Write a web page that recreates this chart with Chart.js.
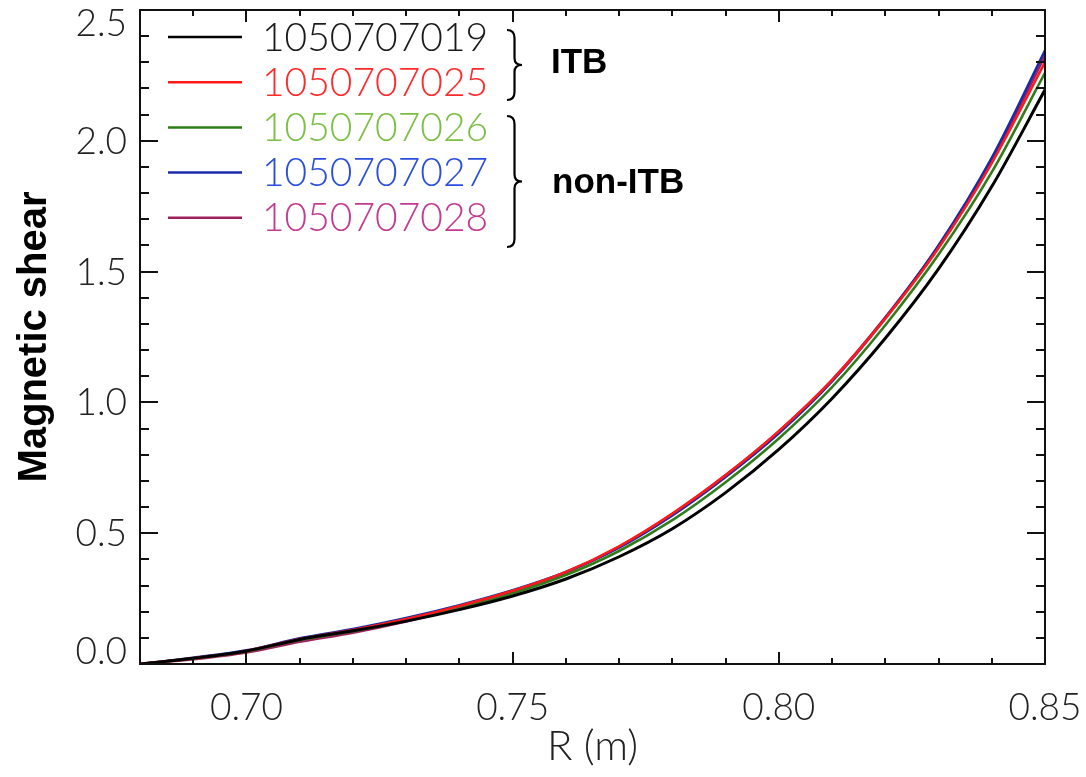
<!DOCTYPE html>
<html>
<head>
<meta charset="utf-8">
<script src="https://cdn.jsdelivr.net/npm/chart.js@4/dist/chart.umd.min.js"></script>
<style>
  html, body { margin: 0; padding: 0; background: #fff; }
  #wrap { width: 1086px; height: 777px; }
</style>
</head>
<body>
<div id="wrap"><canvas id="shearChart" width="1086" height="777"></canvas></div>
<script>
// R (m) sample positions
const radius = [0.68, 0.69, 0.70, 0.71, 0.72, 0.73, 0.74, 0.75, 0.76, 0.77, 0.78, 0.79, 0.80, 0.81, 0.82, 0.83, 0.84, 0.85];

// magnetic shear
const shot019 = [0, 0.022, 0.050, 0.094, 0.127, 0.164, 0.208, 0.260, 0.325, 0.410, 0.517, 0.655, 0.820, 1.015, 1.245, 1.510, 1.825, 2.195];
const shot025 = [0, 0.022, 0.050, 0.095, 0.130, 0.172, 0.222, 0.280, 0.352, 0.450, 0.575, 0.722, 0.890, 1.085, 1.320, 1.590, 1.915, 2.300];
const shot026 = [0, 0.021, 0.048, 0.092, 0.125, 0.166, 0.214, 0.270, 0.340, 0.432, 0.550, 0.695, 0.862, 1.058, 1.295, 1.565, 1.880, 2.260];
const shot027 = [0, 0.024, 0.052, 0.098, 0.134, 0.176, 0.225, 0.282, 0.352, 0.445, 0.568, 0.715, 0.882, 1.080, 1.322, 1.600, 1.935, 2.345];
const shot028 = [0, 0.018, 0.044, 0.085, 0.120, 0.163, 0.214, 0.274, 0.349, 0.448, 0.573, 0.721, 0.889, 1.086, 1.325, 1.598, 1.925, 2.325];

const shotLabels = ['1050707019', '1050707025', '1050707026', '1050707027', '1050707028'];
const lineColors = ['#000000', '#ff1a1a', '#2f7d18', '#1a2aa8', '#a0205e'];
const textColors = ['#1a1a1a', '#ff2a2a', '#7cbf45', '#2a4fe0', '#c23a92'];

const xTickValues = [0.70, 0.75, 0.80, 0.85];
const yTickValues = [0.0, 0.5, 1.0, 1.5, 2.0, 2.5];

const thinFont = '"Lato", "Open Sans", sans-serif';
const boldFont = '"Liberation Sans", Arial, sans-serif';

const allShots = [shot019, shot025, shot026, shot027, shot028];

const datasets = allShots.map((vals, i) => ({
    label: shotLabels[i],
    data: radius.map((r, j) => ({ x: r, y: vals[j] })),
    borderColor: lineColors[i],
    borderWidth: i === 0 ? 3 : 2.6,
    pointRadius: 0,
    fill: false,
    cubicInterpolationMode: 'monotone'
}));

function drawBrace(ctx, x, y1, y2, w) {
    const ym = (y1 + y2) / 2;
    const h = w / 2;
    ctx.beginPath();
    ctx.moveTo(x, y1);
    ctx.quadraticCurveTo(x + h, y1, x + h, y1 + 8);
    ctx.lineTo(x + h, ym - 7);
    ctx.quadraticCurveTo(x + h, ym, x + w, ym);
    ctx.quadraticCurveTo(x + h, ym, x + h, ym + 7);
    ctx.lineTo(x + h, y2 - 8);
    ctx.quadraticCurveTo(x + h, y2, x, y2);
    ctx.stroke();
}

const framePlugin = {
    id: 'frame',
    afterDraw(chart) {
        const ctx = chart.ctx;
        const { left, right, top, bottom } = chart.chartArea;
        const xs = chart.scales.x;
        const ys = chart.scales.y;
        ctx.save();
        ctx.strokeStyle = '#111';
        ctx.lineWidth = 2;
        ctx.strokeRect(left, top, right - left, bottom - top);

        // inward ticks, all four sides
        ctx.beginPath();
        for (let k = 68; k <= 85; k++) {
            const v = k / 100;
            const px = Math.round(xs.getPixelForValue(v));
            const len = k % 5 === 0 ? 12 : 6;
            ctx.moveTo(px, bottom); ctx.lineTo(px, bottom - len);
            ctx.moveTo(px, top); ctx.lineTo(px, top + len);
        }
        for (let k = 0; k <= 25; k++) {
            const v = k / 10;
            const py = Math.round(ys.getPixelForValue(v));
            const len = k % 5 === 0 ? 18 : 9;
            ctx.moveTo(left, py); ctx.lineTo(left + len, py);
            ctx.moveTo(right, py); ctx.lineTo(right - len, py);
        }
        ctx.stroke();

        // y tick labels, kept inside the frame at the ends
        ctx.font = '300 37px ' + thinFont;
        ctx.fillStyle = '#222';
        ctx.textAlign = 'right';
        ctx.textBaseline = 'alphabetic';
        const cap = 26;
        yTickValues.forEach(v => {
            const py = ys.getPixelForValue(v);
            const base = Math.min(bottom, Math.max(top + cap, py + cap / 2));
            ctx.fillText(v.toFixed(1), left - 13, base);
        });

        // legend
        ctx.textAlign = 'left';
        ctx.textBaseline = 'middle';
        ctx.font = '300 39px ' + thinFont;
        chart.data.datasets.forEach((ds, i) => {
            const ry = top + 27 + i * 45.2;
            ctx.strokeStyle = ds.borderColor;
            ctx.lineWidth = 2.5;
            ctx.beginPath();
            ctx.moveTo(left + 28, ry);
            ctx.lineTo(left + 102, ry);
            ctx.stroke();
            ctx.fillStyle = textColors[i];
            ctx.fillText(ds.label, left + 122, ry + 1);
        });

        // group braces
        ctx.strokeStyle = '#000';
        ctx.lineWidth = 2.2;
        drawBrace(ctx, left + 367, top + 20, top + 90, 15);
        drawBrace(ctx, left + 367, top + 106, top + 237, 15);
        ctx.fillStyle = '#000';
        ctx.font = 'bold 35px ' + boldFont;
        ctx.textBaseline = 'alphabetic';
        ctx.fillText('ITB', left + 411, top + 63);
        ctx.fillText('non-ITB', left + 412, top + 183);
        ctx.restore();
    }
};

new Chart(document.getElementById('shearChart').getContext('2d'), {
    type: 'line',
    data: { datasets: datasets },
    options: {
        responsive: false,
        animation: false,
        devicePixelRatio: 1,
        layout: { padding: { top: 10, right: 41, left: 0, bottom: 0 } },
        plugins: { legend: { display: false }, tooltip: { enabled: false } },
        scales: {
            x: {
                type: 'linear',
                min: 0.68,
                max: 0.85,
                grid: { display: false, drawTicks: false },
                border: { display: false },
                afterBuildTicks: scale => { scale.ticks = xTickValues.map(v => ({ value: v })); },
                afterFit: scale => {
                    scale.height = 113;
                    scale.paddingLeft = 0;
                    scale.paddingRight = 0;
                },
                ticks: {
                    autoSkip: false,
                    maxRotation: 0,
                    padding: 22,
                    color: '#222',
                    font: { family: thinFont, size: 37, weight: '300' },
                    callback: v => Number(v).toFixed(2)
                },
                title: {
                    display: true,
                    text: 'R (m)',
                    color: '#222',
                    padding: { top: 0, bottom: 5 },
                    font: { family: thinFont, size: 42, weight: '300' }
                }
            },
            y: {
                type: 'linear',
                min: 0,
                max: 2.5,
                grid: { display: false, drawTicks: false },
                border: { display: false },
                afterFit: scale => {
                    scale.width = 140;
                    scale.paddingTop = 0;
                    scale.paddingBottom = 0;
                },
                ticks: { display: false },
                title: {
                    display: true,
                    text: 'Magnetic shear',
                    color: '#000',
                    padding: { top: 11, bottom: 0 },
                    font: { family: boldFont, size: 40, weight: 'bold' }
                }
            }
        }
    },
    plugins: [framePlugin]
});
</script>
</body>
</html>
